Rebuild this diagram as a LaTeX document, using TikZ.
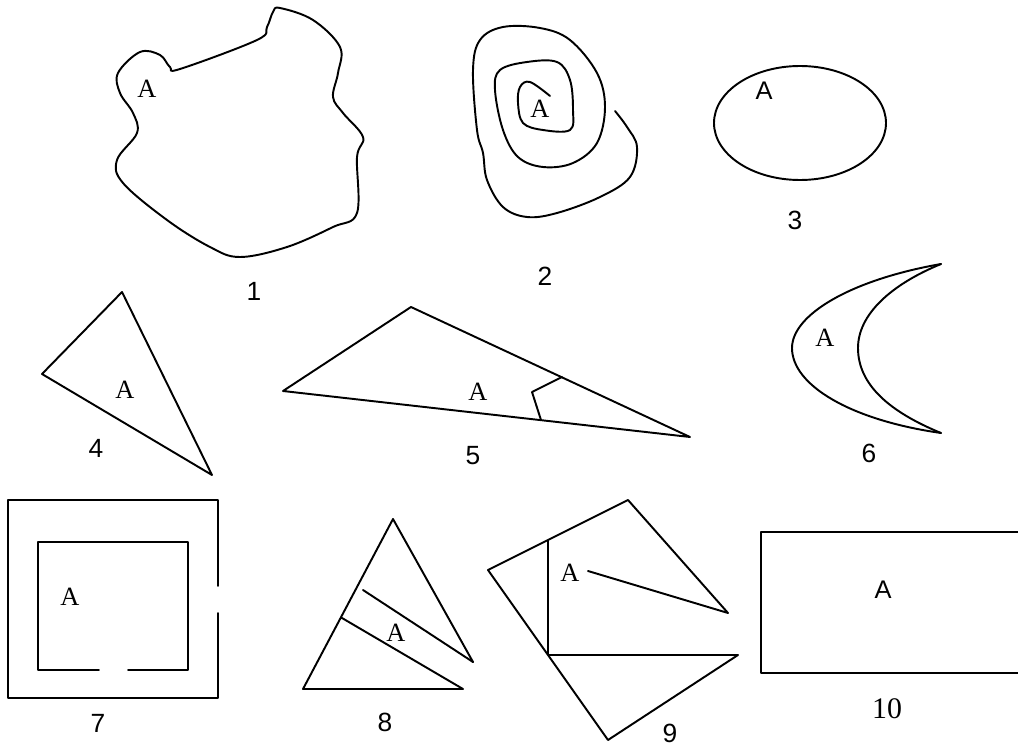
\documentclass[tikz,border=0pt]{standalone}
\usepackage{fontspec}
\setmainfont{Liberation Serif}
\newfontfamily\arialfont{Liberation Sans}
\usepackage{tikz}
\usetikzlibrary{calc}

\tikzset{
  fig/.style={line width=1.1pt},
  numlabel/.style={font=\arialfont\fontsize{15}{18}\selectfont},
  areaA/.style={font=\fontsize{15}{18}\selectfont},
  areaAsans/.style={font=\arialfont\fontsize{14.5}{18}\selectfont}
}

\begin{document}
\begin{tikzpicture}[x=0.02cm,y=-0.02cm,line cap=round,line join=round]
  \useasboundingbox (0,0) rectangle (1018,750);
  % 1: blob
  \draw[fig] plot[smooth cycle,tension=0.6] coordinates {
    (280,8) (313,20) (340,47) (338,73) (333,97) (343,113) (363,137)
    (357,157) (357,213) (333,227) (287,247) (240,257) (210,247)
    (167,220) (123,183) (117,160) (137,133) (133,113) (120,93)
    (118,73) (140,52) (160,55) (170,67) (180,69) (257,40) (267,27) (273,12)};
  \node[areaA] (a1) at (147,89) {A};
  \node[numlabel] (n1) at (254,291) {1};
  % 2: spiral
  \draw[fig] plot[smooth,tension=0.6] coordinates {
    (550,96) (530,82) (520,87) (518,103) (523,123) (543,130) (570,130)
    (573,110) (570,80) (557,62) (527,62) (500,70) (495,90) (503,130)
    (518,157) (543,167) (573,163) (597,143) (605,107) (597,73) (570,40)
    (540,28) (503,27) (480,40) (473,70) (477,130) (483,153) (487,180)
    (503,207) (527,217) (557,213) (600,197) (630,177) (637,147)
    (627,127) (615,111)};
  \node[areaA] (a2) at (540,109) {A};
  \node[numlabel] (n2) at (545,276) {2};
  % 3: ellipse
  \draw[fig] (800,123) ellipse [x radius=86, y radius=57];
  \node[areaAsans] (a3) at (764,91) {A};
  \node[numlabel] (n3) at (795,220) {3};
  % 4
  \draw[fig] (122,292) -- (42,374) -- (212,475) -- cycle;
  \node[areaA] (a4) at (125,390) {A};
  \node[numlabel] (n4) at (96,448) {4};
  % 5
  \draw[fig] (283,391) -- (411,307) -- (690,437) -- cycle;
  \draw[fig] (562,377) -- (532,392) -- (541,420);
  \node[areaA] (a5) at (478,392) {A};
  \node[numlabel] (n5) at (473,456) {5};
  % 6: crescent
  \draw[fig] (941,264) .. controls (850,280) and (792,315) .. (792,348)
    .. controls (792,385) and (850,420) .. (941,433);
  \draw[fig] (941,264) .. controls (890,285) and (858,315) .. (858,348)
    .. controls (858,385) and (890,412) .. (941,433);
  \node[areaA] (a6) at (825,338) {A};
  \node[numlabel] (n6) at (869,453) {6};
  % 7: two rooms
  \draw[fig] (218,586) -- (218,500) -- (8,500) -- (8,698) -- (218,698) -- (218,613);
  \draw[fig] (99,670) -- (38,670) -- (38,542) -- (188,542) -- (188,670) -- (128,670);
  \node[areaA] (a7) at (70,597) {A};
  \node[numlabel] (n7) at (98,723) {7};
  % 8
  \draw[fig] (473,662) -- (393,519) -- (303,689) -- (463,689) -- (342,618);
  \draw[fig] (363,590) -- (473,662);
  \node[areaA] (a8) at (396,633) {A};
  \node[numlabel] (n8) at (385,722) {8};
  % 9
  \draw[fig] (588,571) -- (728,613) -- (628,500) -- (488,570) -- (608,740)
    -- (738,655) -- (548,655) -- (548,541);
  \node[areaA] (a9) at (570,573) {A};
  \node[numlabel] (n9) at (670,733) {9};
  % 10
  \draw[fig] (1018,532) -- (761,532) -- (761,673) -- (1018,673);
  \node[areaAsans] (a10) at (883,590) {A};
  \node[font=\fontsize{17}{20}\selectfont] (n10) at (887,709) {10};
\end{tikzpicture}
\end{document}
